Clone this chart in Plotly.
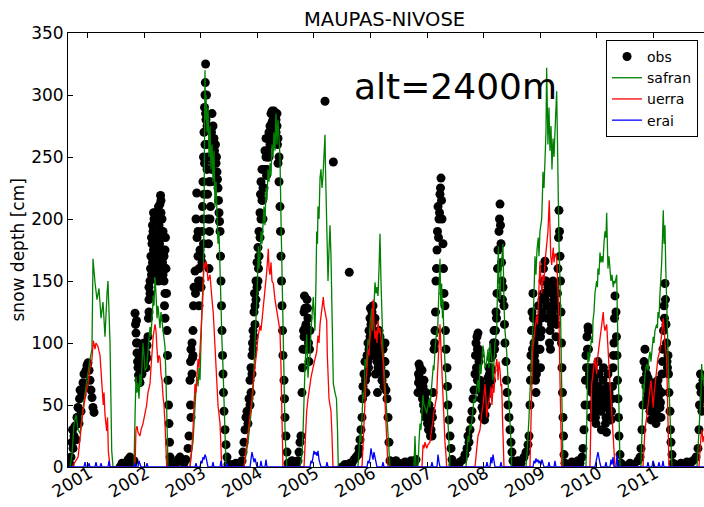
import plotly.graph_objects as go

# ---------------- data (decimal year, snow depth in cm) ----------------
OBS = [
    # winter 2000/01
    (2000.687, 2), (2000.704, 8), (2000.722, 20), (2000.731, 30), (2000.740, 15), (2000.757, 25),
    (2000.775, 33), (2000.793, 22), (2000.810, 40), (2000.828, 48), (2000.846, 35), (2000.855, 55),
    (2000.864, 62), (2000.881, 45), (2000.899, 58), (2000.917, 68), (2000.934, 75), (2000.952, 64),
    (2000.970, 78), (2000.987, 82), (2001.005, 84), (2001.023, 78), (2001.040, 70), (2001.058, 62),
    (2001.076, 56), (2001.093, 48), (2001.111, 44),
    (2001.571, 0), (2001.606, 3), (2001.642, 0), (2001.677, 2), (2001.712, 6), (2001.747, 8),
    (2001.765, 5), (2001.801, 3),
    # winter 2001/02
    (2001.818, 5), (2001.836, 124), (2001.845, 115), (2001.853, 108), (2001.862, 100), (2001.871, 92),
    (2001.880, 85), (2001.889, 80), (2001.898, 74), (2001.906, 70), (2001.924, 68), (2001.942, 80),
    (2001.959, 90), (2001.977, 95), (2001.995, 88), (2002.012, 85), (2002.030, 92), (2002.048, 98),
    (2002.065, 105), (2002.074, 120), (2002.083, 135), (2002.101, 150), (2002.110, 160), (2002.118, 170),
    (2002.136, 180), (2002.145, 165), (2002.154, 190), (2002.172, 200), (2002.180, 175), (2002.189, 160),
    (2002.207, 185), (2002.225, 200), (2002.242, 170), (2002.251, 150), (2002.260, 195), (2002.278, 212),
    (2002.287, 219), (2002.295, 205), (2002.313, 185), (2002.322, 165), (2002.331, 175), (2002.348, 150),
    (2002.357, 130), (2002.366, 120), (2002.375, 185), (2002.384, 160), (2002.393, 140), (2002.401, 110),
    (2002.410, 90), (2002.419, 70), (2002.428, 50), (2002.437, 35), (2002.446, 20), (2002.455, 8),
    (2002.472, 2),
    (2001.862, 118), (2001.880, 100), (2001.906, 90), (2001.924, 82), (2001.959, 75), (2001.995, 100),
    (2002.030, 80), (2002.048, 88), (2002.083, 125), (2002.083, 145), (2002.101, 140), (2002.127, 155),
    (2002.127, 185), (2002.145, 195), (2002.163, 175), (2002.163, 205), (2002.189, 180), (2002.189, 205),
    (2002.216, 165), (2002.216, 200), (2002.233, 185), (2002.233, 155), (2002.251, 175), (2002.251, 210),
    (2002.269, 180), (2002.269, 160), (2002.295, 190), (2002.295, 215), (2002.313, 200), (2002.313, 170),
    (2002.331, 155), (2002.331, 190), (2002.348, 170), (2002.366, 140), (2002.366, 160), (2002.366, 175),
    (2002.508, 0), (2002.561, 3), (2002.596, 6), (2002.631, 8), (2002.667, 5), (2002.702, 3), (2002.737, 6),
    # winter 2002/03
    (2002.773, 15), (2002.790, 25), (2002.808, 70), (2002.817, 85), (2002.826, 95), (2002.844, 100),
    (2002.852, 88), (2002.861, 110), (2002.870, 130), (2002.879, 145), (2002.897, 158), (2002.905, 140),
    (2002.914, 200), (2002.927, 221), (2002.932, 185), (2002.950, 170), (2002.959, 150), (2002.967, 130),
    (2002.985, 150), (2003.003, 170), (2003.020, 190), (2003.029, 210), (2003.038, 230), (2003.047, 250),
    (2003.056, 270), (2003.065, 290), (2003.073, 300), (2003.079, 310), (2003.084, 325), (2003.091, 280),
    (2003.100, 260), (2003.109, 240), (2003.118, 220), (2003.126, 200), (2003.135, 180), (2003.144, 160),
    (2003.162, 200), (2003.171, 230), (2003.179, 250), (2003.188, 270), (2003.197, 285), (2003.215, 275),
    (2003.232, 265), (2003.250, 250), (2003.259, 230), (2003.268, 245), (2003.285, 238), (2003.303, 225),
    (2003.321, 205), (2003.339, 190), (2003.347, 170), (2003.356, 150), (2003.365, 130), (2003.374, 110),
    (2003.383, 90), (2003.392, 75), (2003.400, 60), (2003.409, 45), (2003.427, 30), (2003.445, 18),
    (2003.462, 8), (2003.480, 2),
    (2002.817, 50), (2002.826, 40), (2002.844, 75), (2002.861, 90), (2002.950, 190), (2002.967, 160),
    (2002.985, 175), (2003.003, 145), (2003.020, 165), (2003.038, 200), (2003.047, 180), (2003.056, 220),
    (2003.065, 245), (2003.073, 260), (2003.084, 285), (2003.100, 300), (2003.109, 275), (2003.126, 250),
    (2003.144, 230), (2003.153, 190), (2003.171, 210), (2003.188, 240), (2003.205, 260), (2003.223, 245),
    (2003.241, 255), (2003.259, 260), (2003.276, 250), (2003.294, 232), (2003.312, 215), (2003.330, 198),
    (2003.515, 0), (2003.551, 2), (2003.586, 0), (2003.621, 3), (2003.657, 0), (2003.692, 2),
    # winter 2003/04
    (2003.728, 5), (2003.745, 12), (2003.763, 20), (2003.781, 30), (2003.798, 40), (2003.816, 45),
    (2003.833, 35), (2003.851, 55), (2003.869, 70), (2003.887, 80), (2003.904, 90), (2003.913, 100),
    (2003.922, 110), (2003.940, 125), (2003.948, 140), (2003.957, 130), (2003.975, 150), (2003.993, 165),
    (2004.010, 177), (2004.019, 160), (2004.028, 190), (2004.046, 205), (2004.055, 220), (2004.063, 230),
    (2004.081, 240), (2004.090, 215), (2004.099, 200), (2004.116, 225), (2004.134, 240), (2004.152, 250),
    (2004.161, 235), (2004.169, 255), (2004.187, 265), (2004.205, 250), (2004.223, 275), (2004.240, 285),
    (2004.258, 287), (2004.267, 270), (2004.276, 280), (2004.293, 287), (2004.311, 282), (2004.329, 270),
    (2004.346, 285), (2004.355, 260), (2004.364, 245), (2004.382, 230), (2004.399, 210), (2004.408, 190),
    (2004.417, 170), (2004.426, 150), (2004.435, 130), (2004.444, 110), (2004.452, 90), (2004.470, 70),
    (2004.479, 55), (2004.488, 40), (2004.505, 25), (2004.523, 12), (2004.541, 3),
    (2003.869, 50), (2003.887, 60), (2003.904, 75), (2003.922, 95), (2003.940, 105), (2003.957, 115),
    (2003.975, 135), (2003.993, 145), (2004.010, 150), (2004.028, 170), (2004.046, 185), (2004.063, 200),
    (2004.081, 215), (2004.099, 225), (2004.116, 240), (2004.134, 255), (2004.152, 265), (2004.169, 240),
    (2004.187, 250), (2004.205, 270), (2004.223, 260), (2004.240, 270), (2004.258, 278), (2004.276, 265),
    (2004.293, 275), (2004.311, 270), (2004.329, 280), (2004.346, 275), (2004.364, 265), (2004.382, 250),
    (2004.576, 2), (2004.611, 5), (2004.647, 3), (2004.682, 0),
    # winter 2004/05
    (2004.717, 5), (2004.735, 12), (2004.753, 20), (2004.770, 25), (2004.788, 60), (2004.797, 80),
    (2004.806, 95), (2004.815, 110), (2004.824, 125), (2004.832, 138), (2004.841, 128), (2004.859, 115),
    (2004.868, 105), (2004.877, 135), (2004.894, 120), (2004.903, 100), (2004.912, 85), (2004.930, 110),
    (2004.824, 105), (2004.841, 112), (2004.850, 95), (2004.885, 128), (2004.921, 95),
    (2005.195, 295), (2005.342, 246), (2005.624, 157),
    (2005.495, 0), (2005.548, 2), (2005.601, 0), (2005.637, 3), (2005.672, 3),
    # winter 2005/06
    (2005.708, 6), (2005.743, 8), (2005.778, 10), (2005.796, 15), (2005.814, 22), (2005.831, 30),
    (2005.849, 40), (2005.858, 55), (2005.867, 65), (2005.884, 75), (2005.902, 85), (2005.911, 70),
    (2005.920, 60), (2005.938, 90), (2005.955, 100), (2005.964, 80), (2005.973, 110), (2005.991, 120),
    (2005.999, 128), (2006.008, 100), (2006.026, 115), (2006.035, 90), (2006.044, 130), (2006.061, 118),
    (2006.079, 95), (2006.088, 75), (2006.097, 105), (2006.114, 85), (2006.123, 60), (2006.132, 100),
    (2006.150, 110), (2006.167, 90), (2006.185, 80), (2006.203, 70), (2006.220, 95), (2006.238, 85),
    (2006.256, 100), (2006.264, 75), (2006.273, 62), (2006.291, 55), (2006.309, 40), (2006.326, 20),
    (2006.344, 5),
    (2005.938, 75), (2005.955, 85), (2005.973, 95), (2005.991, 105), (2006.008, 115), (2006.026, 125),
    (2006.044, 110), (2006.061, 100), (2006.079, 120), (2006.097, 90), (2006.114, 100), (2006.132, 80),
    (2006.150, 95), (2006.167, 105), (2006.185, 100), (2006.203, 85), (2006.220, 75), (2006.238, 65),
    (2006.256, 85),
    (2006.397, 2), (2006.450, 5), (2006.503, 3), (2006.556, 0), (2006.610, 4), (2006.662, 2),
    (2006.716, 5), (2006.768, 3), (2006.804, 6),
    # winter 2006/07
    (2006.839, 60), (2006.848, 75), (2006.857, 83), (2006.875, 80), (2006.892, 70), (2006.910, 78),
    (2006.928, 65), (2006.945, 70), (2006.963, 55), (2006.981, 60), (2006.998, 45), (2007.016, 40),
    (2007.034, 50), (2007.051, 35), (2007.069, 30), (2007.078, 45), (2007.087, 25), (2007.104, 60),
    (2007.122, 95), (2007.140, 110), (2007.149, 125), (2007.157, 150), (2007.175, 175), (2007.184, 190),
    (2007.193, 210), (2007.211, 200), (2007.228, 220), (2007.246, 233), (2007.255, 215), (2007.264, 200),
    (2007.281, 180), (2007.290, 160), (2007.299, 140), (2007.316, 130), (2007.325, 110), (2007.334, 95),
    (2007.352, 80), (2007.361, 65), (2007.369, 50), (2007.387, 38), (2007.405, 25), (2007.423, 15),
    (2007.440, 6), (2007.458, 2),
    (2006.848, 68), (2006.866, 72), (2006.883, 65), (2006.901, 60), (2006.919, 55), (2006.937, 50),
    (2006.954, 45), (2006.972, 40), (2006.990, 52), (2007.007, 35), (2007.025, 30), (2007.043, 45),
    (2007.060, 25), (2007.095, 40), (2007.131, 100), (2007.166, 160), (2007.202, 185), (2007.220, 205),
    (2007.237, 225),
    (2007.493, 0), (2007.529, 2), (2007.582, 4),
    # winter 2007/08
    (2007.635, 6), (2007.670, 10), (2007.706, 15), (2007.723, 25), (2007.741, 20), (2007.759, 30),
    (2007.776, 38), (2007.794, 45), (2007.812, 55), (2007.829, 62), (2007.847, 75), (2007.856, 90),
    (2007.865, 100), (2007.882, 105), (2007.891, 95), (2007.900, 108), (2007.918, 85), (2007.935, 70),
    (2007.953, 55), (2007.971, 48), (2007.988, 60), (2008.006, 52), (2008.024, 42), (2008.041, 65),
    (2008.059, 58), (2008.077, 72), (2008.094, 80), (2008.112, 66), (2008.130, 88), (2008.147, 78),
    (2008.165, 95), (2008.183, 110), (2008.201, 100), (2008.218, 125), (2008.236, 140), (2008.245, 160),
    (2008.254, 175), (2008.271, 190), (2008.280, 200), (2008.289, 212), (2008.298, 195), (2008.307, 180),
    (2008.316, 165), (2008.324, 150), (2008.333, 135), (2008.342, 145), (2008.360, 130), (2008.368, 115),
    (2008.377, 100), (2008.395, 85), (2008.404, 70), (2008.413, 60), (2008.430, 50), (2008.448, 40),
    (2008.466, 30), (2008.483, 20), (2008.501, 12), (2008.519, 5),
    (2007.873, 80), (2007.891, 70), (2007.909, 95), (2007.926, 90), (2007.944, 65), (2007.962, 60),
    (2007.979, 40), (2007.997, 45), (2008.015, 38), (2008.032, 55), (2008.050, 50), (2008.068, 62),
    (2008.086, 68), (2008.103, 75), (2008.121, 80), (2008.139, 70), (2008.156, 90), (2008.174, 100),
    (2008.192, 95), (2008.209, 110), (2008.227, 120),
    (2008.554, 2), (2008.607, 5), (2008.660, 3), (2008.713, 8), (2008.749, 12), (2008.784, 18), (2008.802, 25),
    # winter 2008/09
    (2008.819, 50), (2008.828, 70), (2008.837, 90), (2008.846, 110), (2008.855, 125), (2008.872, 140),
    (2008.881, 120), (2008.890, 100), (2008.908, 85), (2008.917, 70), (2008.925, 60), (2008.943, 95),
    (2008.961, 115), (2008.970, 130), (2008.978, 110), (2008.996, 95), (2009.005, 80), (2009.014, 120),
    (2009.031, 135), (2009.049, 150), (2009.058, 160), (2009.067, 140), (2009.084, 166), (2009.102, 150),
    (2009.120, 130), (2009.137, 145), (2009.155, 120), (2009.173, 110), (2009.191, 125), (2009.208, 140),
    (2009.226, 150), (2009.244, 135), (2009.261, 120), (2009.279, 105), (2009.297, 130), (2009.314, 160),
    (2009.323, 185), (2009.332, 207), (2009.341, 190), (2009.350, 170), (2009.359, 150), (2009.368, 125),
    (2009.377, 100), (2009.385, 80), (2009.394, 60), (2009.403, 40), (2009.412, 25), (2009.421, 10),
    (2009.438, 3),
    (2008.846, 80), (2008.864, 95), (2008.881, 110), (2008.899, 90), (2008.917, 80), (2008.934, 75),
    (2008.952, 105), (2008.970, 95), (2008.987, 120), (2009.005, 105), (2009.023, 110), (2009.040, 125),
    (2009.058, 140), (2009.076, 150), (2009.093, 135), (2009.111, 140), (2009.129, 120), (2009.146, 130),
    (2009.164, 100), (2009.182, 95), (2009.199, 115), (2009.217, 125), (2009.235, 130), (2009.252, 145),
    (2009.270, 130), (2009.288, 115), (2009.305, 140),
    (2009.456, 0), (2009.509, 2), (2009.562, 4), (2009.615, 2), (2009.668, 5), (2009.703, 3), (2009.739, 8),
    # winter 2009/10
    (2009.756, 15), (2009.774, 30), (2009.792, 50), (2009.800, 70), (2009.809, 90), (2009.827, 105),
    (2009.845, 113), (2009.853, 95), (2009.862, 80), (2009.880, 65), (2009.889, 50), (2009.898, 40),
    (2009.915, 60), (2009.933, 80), (2009.951, 70), (2009.968, 55), (2009.977, 40), (2009.986, 35),
    (2010.004, 65), (2010.021, 85), (2010.039, 75), (2010.057, 60), (2010.074, 45), (2010.083, 30),
    (2010.092, 50), (2010.110, 70), (2010.127, 62), (2010.145, 48), (2010.163, 40), (2010.172, 28),
    (2010.180, 55), (2010.198, 75), (2010.216, 60), (2010.234, 45), (2010.251, 38), (2010.269, 55),
    (2010.287, 80), (2010.304, 100), (2010.313, 120), (2010.322, 138), (2010.340, 125), (2010.348, 105),
    (2010.357, 90), (2010.366, 70), (2010.375, 55), (2010.384, 40), (2010.393, 25), (2010.411, 10),
    (2010.428, 3),
    (2009.818, 80), (2009.836, 95), (2009.853, 110), (2009.871, 75), (2009.906, 50), (2009.924, 70),
    (2009.942, 60), (2009.959, 45), (2009.995, 50), (2010.012, 75), (2010.030, 65), (2010.048, 50),
    (2010.065, 55), (2010.101, 60), (2010.118, 80), (2010.136, 55), (2010.154, 35), (2010.189, 65),
    (2010.207, 50), (2010.225, 40), (2010.242, 55), (2010.260, 45), (2010.278, 65), (2010.295, 90),
    (2010.446, 2), (2010.516, 0), (2010.587, 3), (2010.658, 2), (2010.729, 5),
    # winter 2010/11
    (2010.764, 8), (2010.782, 15), (2010.799, 30), (2010.817, 50), (2010.826, 70), (2010.835, 85),
    (2010.852, 95), (2010.861, 80), (2010.870, 65), (2010.888, 55), (2010.905, 72), (2010.923, 60),
    (2010.941, 45), (2010.958, 38), (2010.976, 55), (2010.994, 68), (2011.012, 50), (2011.029, 40),
    (2011.047, 35), (2011.065, 58), (2011.082, 70), (2011.100, 62), (2011.118, 48), (2011.135, 40),
    (2011.153, 75), (2011.171, 95), (2011.180, 110), (2011.189, 130), (2011.206, 148), (2011.215, 135),
    (2011.224, 115), (2011.233, 100), (2011.242, 85), (2011.259, 90), (2011.268, 75), (2011.277, 60),
    (2011.295, 45), (2011.303, 30), (2011.312, 20), (2011.330, 10), (2011.348, 3),
    (2010.843, 70), (2010.879, 75), (2010.896, 60), (2010.914, 50), (2010.932, 65), (2010.950, 55),
    (2010.967, 45), (2010.985, 60), (2011.003, 55), (2011.021, 45), (2011.038, 50), (2011.056, 45),
    (2011.074, 65), (2011.091, 55), (2011.109, 60), (2011.126, 52), (2011.144, 60), (2011.162, 85),
    (2011.197, 120), (2011.250, 80),
    (2011.383, 2), (2011.436, 0), (2011.489, 3), (2011.542, 2), (2011.595, 4), (2011.648, 2),
    (2011.701, 5), (2011.754, 8),
    # winter 2011/12
    (2011.790, 15), (2011.807, 30), (2011.816, 50), (2011.825, 65), (2011.834, 75), (2011.843, 60),
    (2011.860, 45), (2011.878, 70), (2011.896, 55),
]

SAFRAN = [
    (2000.687, 0), (2000.722, 10), (2000.758, 35), (2000.793, 42), (2000.829, 30), (2000.864, 27),
    (2000.917, 48), (2000.970, 66), (2001.040, 87), (2001.075, 95), (2001.093, 168), (2001.128, 149),
    (2001.164, 135), (2001.199, 144), (2001.235, 120), (2001.270, 133), (2001.305, 105), (2001.341, 140),
    (2001.358, 150), (2001.394, 100), (2001.424, 13), (2001.447, 0),
    (2001.818, 0), (2001.836, 40), (2001.853, 73), (2001.871, 60), (2001.889, 68), (2001.906, 55),
    (2001.924, 75), (2001.942, 65), (2001.959, 85), (2001.977, 100), (2001.995, 90), (2002.012, 78),
    (2002.042, 80), (2002.065, 95), (2002.101, 113), (2002.118, 105), (2002.136, 125), (2002.159, 138),
    (2002.172, 130), (2002.189, 153), (2002.207, 140), (2002.225, 120), (2002.242, 130), (2002.278, 112),
    (2002.295, 125), (2002.313, 118), (2002.331, 107), (2002.348, 100), (2002.366, 97), (2002.384, 70),
    (2002.396, 44), (2002.410, 20), (2002.419, 0),
    (2002.808, 0), (2002.826, 10), (2002.861, 20), (2002.897, 50), (2002.927, 73), (2002.950, 65),
    (2002.967, 80), (2002.985, 70), (2003.003, 110), (2003.020, 130), (2003.043, 150), (2003.056, 200),
    (2003.073, 320), (2003.082, 280), (2003.091, 300), (2003.109, 270), (2003.126, 290), (2003.144, 250),
    (2003.162, 275), (2003.179, 240), (2003.197, 260), (2003.215, 230), (2003.232, 255), (2003.250, 210),
    (2003.268, 230), (2003.285, 200), (2003.303, 180), (2003.321, 190), (2003.339, 150), (2003.356, 130),
    (2003.374, 100), (2003.392, 80), (2003.409, 50), (2003.427, 20), (2003.445, 0),
    (2003.763, 0), (2003.798, 10), (2003.833, 20), (2003.869, 35), (2003.904, 50), (2003.922, 60),
    (2003.940, 80), (2003.957, 100), (2003.987, 120), (2004.001, 150), (2004.016, 178), (2004.028, 160),
    (2004.046, 170), (2004.063, 190), (2004.081, 180), (2004.099, 200), (2004.116, 210), (2004.134, 195),
    (2004.152, 225), (2004.169, 215), (2004.187, 240), (2004.205, 230), (2004.223, 245), (2004.240, 235),
    (2004.258, 260), (2004.276, 250), (2004.293, 270), (2004.311, 255), (2004.329, 285), (2004.346, 260),
    (2004.364, 280), (2004.382, 265), (2004.399, 250), (2004.417, 200), (2004.435, 150), (2004.452, 100),
    (2004.470, 60), (2004.488, 30), (2004.505, 10), (2004.523, 0),
    (2004.753, 0), (2004.788, 10), (2004.806, 27), (2004.824, 60), (2004.841, 80), (2004.871, 107),
    (2004.886, 90), (2004.894, 72), (2004.912, 85), (2004.930, 90), (2004.947, 110), (2004.965, 120),
    (2004.988, 137), (2005.000, 125), (2005.018, 110), (2005.036, 150), (2005.048, 190), (2005.062, 180),
    (2005.071, 210), (2005.089, 200), (2005.107, 233), (2005.124, 240), (2005.142, 225), (2005.160, 235),
    (2005.177, 250), (2005.195, 268), (2005.204, 240), (2005.213, 220), (2005.225, 193), (2005.239, 160),
    (2005.248, 150), (2005.266, 175), (2005.283, 195), (2005.301, 170), (2005.314, 137), (2005.328, 100),
    (2005.342, 67), (2005.372, 60), (2005.398, 55), (2005.416, 30), (2005.430, 0),
    (2005.778, 0), (2005.796, 10), (2005.814, 27), (2005.831, 20), (2005.849, 45), (2005.867, 60),
    (2005.884, 55), (2005.902, 87), (2005.920, 80), (2005.938, 95), (2005.955, 103), (2005.973, 98),
    (2005.991, 115), (2006.021, 128), (2006.035, 110), (2006.044, 120), (2006.061, 130), (2006.079, 149),
    (2006.097, 140), (2006.114, 145), (2006.132, 138), (2006.150, 160), (2006.167, 188), (2006.185, 150),
    (2006.197, 121), (2006.211, 110), (2006.220, 95), (2006.238, 80), (2006.256, 65), (2006.286, 45),
    (2006.309, 25), (2006.326, 10), (2006.344, 0),
    (2006.768, 0), (2006.786, 25), (2006.804, 0),
    (2006.839, 0), (2006.857, 20), (2006.875, 35), (2006.892, 30), (2006.910, 45), (2006.928, 58),
    (2006.945, 50), (2006.963, 48), (2006.993, 43), (2007.016, 50), (2007.034, 55), (2007.051, 48),
    (2007.069, 60), (2007.087, 70), (2007.110, 82), (2007.122, 78), (2007.140, 95), (2007.170, 110),
    (2007.184, 105), (2007.193, 120), (2007.211, 140), (2007.228, 168), (2007.242, 130), (2007.258, 148),
    (2007.272, 120), (2007.281, 135), (2007.299, 100), (2007.316, 80), (2007.346, 57), (2007.361, 45),
    (2007.375, 30), (2007.387, 15), (2007.405, 0),
    (2007.688, 0), (2007.706, 15), (2007.724, 25), (2007.741, 20), (2007.759, 35), (2007.776, 30),
    (2007.794, 40), (2007.812, 48), (2007.829, 55), (2007.847, 52), (2007.877, 63), (2007.900, 70),
    (2007.918, 60), (2007.935, 83), (2007.953, 75), (2007.971, 90), (2007.988, 98), (2008.006, 92),
    (2008.024, 80), (2008.054, 85), (2008.077, 95), (2008.094, 80), (2008.112, 100), (2008.130, 92),
    (2008.147, 85), (2008.165, 70), (2008.183, 90), (2008.201, 100), (2008.231, 110), (2008.245, 140),
    (2008.259, 178), (2008.271, 150), (2008.289, 135), (2008.307, 160), (2008.324, 170), (2008.342, 180),
    (2008.360, 130), (2008.377, 110), (2008.407, 93), (2008.430, 70), (2008.448, 55), (2008.466, 45),
    (2008.483, 20), (2008.496, 0),
    (2008.749, 0), (2008.766, 10), (2008.784, 22), (2008.802, 40), (2008.819, 60), (2008.837, 75),
    (2008.849, 87), (2008.864, 100), (2008.872, 115), (2008.890, 140), (2008.908, 170), (2008.925, 155),
    (2008.943, 175), (2008.966, 185), (2008.978, 170), (2008.996, 190), (2009.026, 200), (2009.040, 220),
    (2009.049, 238), (2009.067, 225), (2009.084, 250), (2009.102, 270), (2009.114, 322), (2009.129, 280),
    (2009.137, 260), (2009.155, 290), (2009.173, 255), (2009.191, 275), (2009.208, 240), (2009.226, 265),
    (2009.244, 250), (2009.261, 270), (2009.279, 285), (2009.291, 303), (2009.306, 260), (2009.314, 230),
    (2009.332, 180), (2009.350, 150), (2009.368, 100), (2009.385, 40), (2009.403, 0),
    (2009.809, 0), (2009.827, 40), (2009.845, 93), (2009.862, 85), (2009.880, 95), (2009.910, 105),
    (2009.924, 100), (2009.933, 118), (2009.951, 125), (2009.968, 140), (2009.998, 150), (2010.012, 145),
    (2010.021, 160), (2010.039, 155), (2010.057, 173), (2010.074, 165), (2010.092, 170), (2010.110, 165),
    (2010.127, 180), (2010.145, 190), (2010.163, 185), (2010.175, 205), (2010.190, 175), (2010.198, 160),
    (2010.216, 170), (2010.234, 160), (2010.251, 150), (2010.269, 155), (2010.292, 145), (2010.304, 150),
    (2010.322, 148), (2010.352, 155), (2010.366, 120), (2010.380, 70), (2010.393, 30), (2010.411, 0),
    (2010.782, 0), (2010.799, 30), (2010.822, 67), (2010.835, 60), (2010.852, 75), (2010.882, 83),
    (2010.905, 78), (2010.923, 88), (2010.941, 93), (2010.958, 85), (2010.976, 95), (2010.999, 105),
    (2011.012, 100), (2011.029, 110), (2011.059, 115), (2011.073, 112), (2011.082, 125), (2011.100, 120),
    (2011.118, 140), (2011.135, 150), (2011.148, 165), (2011.162, 185), (2011.176, 207), (2011.189, 180),
    (2011.206, 195), (2011.220, 160), (2011.236, 140), (2011.250, 110), (2011.265, 80), (2011.277, 60),
    (2011.295, 40), (2011.312, 20), (2011.330, 0),
    (2011.772, 0), (2011.790, 15), (2011.807, 30), (2011.825, 45), (2011.843, 60), (2011.855, 83),
    (2011.869, 70), (2011.878, 75), (2011.896, 65),
]

UERRA = [
    (2000.722, 0), (2000.793, 5), (2000.829, 8), (2000.864, 23), (2000.917, 45), (2000.970, 60),
    (2001.005, 67), (2001.040, 80), (2001.075, 87), (2001.099, 102), (2001.128, 95), (2001.146, 100),
    (2001.182, 97), (2001.217, 90), (2001.247, 70), (2001.275, 50), (2001.288, 60), (2001.305, 42),
    (2001.335, 29), (2001.350, 40), (2001.364, 13), (2001.394, 0),
    (2001.836, 0), (2001.853, 30), (2001.871, 33), (2001.889, 28), (2001.924, 25), (2001.942, 30),
    (2001.977, 35), (2002.012, 42), (2002.042, 50), (2002.065, 60), (2002.101, 67), (2002.118, 80),
    (2002.136, 95), (2002.159, 106), (2002.189, 115), (2002.207, 110), (2002.225, 95), (2002.242, 84),
    (2002.260, 90), (2002.278, 88), (2002.295, 75), (2002.313, 70), (2002.331, 57), (2002.348, 50),
    (2002.366, 35), (2002.384, 15), (2002.396, 0),
    (2002.808, 0), (2002.838, 13), (2002.861, 30), (2002.897, 67), (2002.914, 60), (2002.932, 75),
    (2002.950, 87), (2002.967, 80), (2002.985, 100), (2003.015, 120), (2003.038, 140), (2003.056, 165),
    (2003.073, 160), (2003.091, 166), (2003.109, 162), (2003.126, 150), (2003.162, 155), (2003.179, 140),
    (2003.197, 135), (2003.220, 124), (2003.250, 100), (2003.280, 67), (2003.303, 50), (2003.339, 35),
    (2003.356, 15), (2003.369, 0),
    (2003.763, 0), (2003.811, 18), (2003.833, 30), (2003.869, 40), (2003.904, 55), (2003.922, 67),
    (2003.957, 80), (2003.987, 93), (2004.010, 105), (2004.046, 114), (2004.063, 110), (2004.099, 125),
    (2004.134, 140), (2004.164, 157), (2004.193, 176), (2004.205, 160), (2004.223, 155), (2004.240, 165),
    (2004.258, 150), (2004.281, 148), (2004.311, 135), (2004.341, 125), (2004.364, 120), (2004.382, 112),
    (2004.399, 110), (2004.417, 80), (2004.435, 45), (2004.452, 0),
    (2004.824, 0), (2004.841, 20), (2004.871, 45), (2004.894, 55), (2004.930, 67), (2004.947, 72),
    (2004.983, 80), (2005.018, 88), (2005.048, 93), (2005.071, 106), (2005.089, 100), (2005.107, 115),
    (2005.137, 125), (2005.151, 130), (2005.165, 137), (2005.177, 130), (2005.195, 125), (2005.225, 118),
    (2005.236, 90), (2005.248, 67), (2005.266, 55), (2005.283, 50), (2005.301, 45), (2005.319, 25),
    (2005.336, 0),
    (2005.849, 0), (2005.867, 20), (2005.884, 40), (2005.902, 58), (2005.920, 70), (2005.938, 80),
    (2005.961, 95), (2005.973, 90), (2005.991, 105), (2006.021, 115), (2006.035, 125), (2006.049, 135),
    (2006.061, 115), (2006.079, 103), (2006.097, 110), (2006.114, 100), (2006.132, 118), (2006.150, 108),
    (2006.167, 112), (2006.185, 100), (2006.203, 95), (2006.226, 82), (2006.238, 70), (2006.256, 50),
    (2006.273, 35), (2006.291, 20), (2006.309, 0),
    (2006.910, 0), (2006.928, 18), (2006.945, 15), (2006.963, 20), (2006.993, 15), (2007.016, 18),
    (2007.051, 20), (2007.069, 25), (2007.087, 30), (2007.110, 40), (2007.122, 45), (2007.140, 50),
    (2007.170, 57), (2007.184, 75), (2007.198, 93), (2007.211, 100), (2007.228, 115), (2007.246, 95),
    (2007.258, 80), (2007.272, 65), (2007.287, 50), (2007.299, 35), (2007.316, 20), (2007.334, 10),
    (2007.346, 0),
    (2007.847, 0), (2007.877, 18), (2007.900, 25), (2007.935, 30), (2007.953, 40), (2007.971, 45),
    (2007.994, 52), (2008.024, 67), (2008.041, 55), (2008.054, 40), (2008.077, 50), (2008.112, 57),
    (2008.130, 65), (2008.147, 50), (2008.170, 67), (2008.183, 60), (2008.201, 75), (2008.231, 87),
    (2008.245, 80), (2008.254, 70), (2008.271, 85), (2008.289, 78), (2008.307, 65), (2008.319, 67),
    (2008.333, 40), (2008.342, 22), (2008.360, 0),
    (2008.819, 0), (2008.837, 40), (2008.849, 81), (2008.864, 90), (2008.872, 96), (2008.890, 105),
    (2008.908, 112), (2008.938, 122), (2008.952, 115), (2008.966, 130), (2008.978, 145), (2008.996, 166),
    (2009.014, 150), (2009.031, 140), (2009.049, 155), (2009.067, 150), (2009.084, 165), (2009.114, 177),
    (2009.137, 190), (2009.160, 215), (2009.173, 190), (2009.187, 170), (2009.203, 163), (2009.217, 170),
    (2009.231, 177), (2009.244, 165), (2009.261, 172), (2009.291, 170), (2009.306, 150), (2009.314, 140),
    (2009.332, 120), (2009.350, 70), (2009.368, 30), (2009.380, 0),
    (2009.880, 0), (2009.898, 30), (2009.910, 67), (2009.933, 75), (2009.968, 88), (2009.986, 80),
    (2009.998, 75), (2010.021, 90), (2010.057, 103), (2010.074, 110), (2010.092, 118), (2010.115, 125),
    (2010.127, 115), (2010.145, 110), (2010.175, 115), (2010.190, 105), (2010.204, 95), (2010.216, 80),
    (2010.234, 67), (2010.251, 55), (2010.269, 40), (2010.287, 30), (2010.304, 15), (2010.322, 0),
    (2010.817, 0), (2010.835, 20), (2010.852, 30), (2010.882, 40), (2010.905, 50), (2010.941, 63),
    (2010.958, 70), (2010.976, 60), (2010.999, 48), (2011.012, 58), (2011.029, 65), (2011.059, 82),
    (2011.082, 88), (2011.118, 94), (2011.135, 100), (2011.153, 110), (2011.176, 120), (2011.189, 110),
    (2011.206, 100), (2011.236, 87), (2011.250, 60), (2011.259, 30), (2011.277, 0),
    (2011.807, 0), (2011.825, 15), (2011.843, 25), (2011.860, 30), (2011.878, 20), (2011.896, 25),
]

ERAI = [
    (2000.651, 0),
    (2000.934, 0), (2000.952, 4), (2000.970, 0), (2001.005, 0), (2001.023, 3), (2001.040, 0),
    (2001.128, 0), (2001.146, 4), (2001.164, 0), (2001.217, 0), (2001.235, 3), (2001.252, 0),
    (2001.358, 0), (2001.376, 5), (2001.394, 0),
    (2001.818, 0), (2001.836, 3), (2001.853, 0), (2001.889, 0), (2001.906, 5), (2001.924, 2),
    (2001.942, 0), (2002.030, 0), (2002.048, 3), (2002.065, 0),
    (2002.897, 0), (2002.914, 3), (2002.932, 0), (2002.985, 0), (2003.003, 5), (2003.020, 3),
    (2003.038, 8), (2003.056, 6), (2003.073, 10), (2003.091, 8), (2003.109, 5), (2003.126, 0),
    (2003.197, 0), (2003.215, 4), (2003.232, 0), (2003.339, 0), (2003.356, 5), (2003.374, 0),
    (2003.445, 0), (2003.462, 3), (2003.480, 0),
    (2003.869, 0), (2003.886, 6), (2003.904, 12), (2003.922, 8), (2003.940, 4), (2003.957, 7),
    (2003.975, 3), (2003.993, 0), (2004.046, 0), (2004.063, 5), (2004.081, 0), (2004.134, 0),
    (2004.152, 6), (2004.169, 0),
    (2004.930, 0), (2004.947, 5), (2004.965, 3), (2004.983, 8), (2005.000, 13), (2005.018, 10),
    (2005.036, 12), (2005.054, 9), (2005.071, 13), (2005.089, 6), (2005.107, 3), (2005.124, 0),
    (2005.213, 0), (2005.230, 4), (2005.248, 0),
    (2005.938, 0), (2005.955, 5), (2005.973, 3), (2005.991, 8), (2006.008, 15), (2006.026, 10),
    (2006.044, 6), (2006.061, 12), (2006.079, 8), (2006.097, 3), (2006.114, 0), (2006.203, 0),
    (2006.220, 4), (2006.238, 0),
    (2007.069, 0), (2007.087, 4), (2007.104, 0), (2007.175, 0), (2007.193, 10), (2007.211, 4),
    (2007.228, 0),
    (2008.041, 0), (2008.059, 4), (2008.077, 0), (2008.112, 0), (2008.130, 8), (2008.147, 3),
    (2008.165, 10), (2008.183, 5), (2008.201, 0), (2008.289, 0), (2008.307, 4), (2008.324, 0),
    (2008.872, 0), (2008.890, 5), (2008.908, 3), (2008.925, 7), (2008.943, 4), (2008.961, 6),
    (2008.978, 3), (2008.996, 5), (2009.014, 2), (2009.031, 6), (2009.049, 3), (2009.067, 0),
    (2009.137, 0), (2009.155, 4), (2009.173, 0), (2009.244, 0), (2009.261, 5), (2009.279, 0),
    (2009.968, 0), (2009.986, 6), (2010.004, 8), (2010.021, 12), (2010.039, 5), (2010.057, 3),
    (2010.074, 0), (2010.145, 0), (2010.163, 4), (2010.180, 0), (2010.234, 0), (2010.251, 6),
    (2010.269, 2), (2010.287, 8), (2010.304, 0), (2010.340, 0), (2010.357, 10), (2010.375, 0),
    (2010.888, 0), (2010.905, 4), (2010.923, 0), (2010.976, 0), (2010.994, 5), (2011.012, 2),
    (2011.029, 0), (2011.082, 0), (2011.100, 4), (2011.118, 0), (2011.153, 0), (2011.171, 5),
    (2011.189, 0),
    (2011.896, 0),
]

TICK_YEARS = [2001, 2002, 2003, 2004, 2005, 2006, 2007, 2008, 2009, 2010, 2011]
Y_TICKS = [0, 50, 100, 150, 200, 250, 300, 350]
X_RANGE = [2000.651, 2011.896]
Y_RANGE = [0, 350]
TITLE = "MAUPAS-NIVOSE"
ALT_LABEL = "alt=2400m"


def split(pairs):
    return [p[0] for p in pairs], [p[1] for p in pairs]


FONT = "DejaVu Sans"
fig = go.Figure()

ox, oy = split(OBS)
fig.add_trace(go.Scatter(x=ox, y=oy, mode="markers", name="obs",
                         marker=dict(color="black", size=9, line=dict(width=0)),
                         cliponaxis=True))
for name, data, color in [("safran", SAFRAN, "#008000"),
                          ("uerra", UERRA, "#ff0000"),
                          ("erai", ERAI, "#0000ff")]:
    xs, ys = split(data)
    fig.add_trace(go.Scatter(x=xs, y=ys, mode="lines", name=name,
                             line=dict(color=color, width=1.3)))

fig.update_layout(
    width=704, height=507,
    margin=dict(l=68, r=0, t=33, b=40, pad=0, autoexpand=False),
    paper_bgcolor="white", plot_bgcolor="white",
    font=dict(family=FONT, size=17, color="black"),
    showlegend=True,
    legend=dict(x=0.9906, xanchor="right", y=0.984, yanchor="top",
                bgcolor="white", bordercolor="black", borderwidth=1,
                font=dict(family=FONT, size=14, color="black"),
                itemwidth=30, tracegroupgap=0),
    xaxis=dict(range=X_RANGE, tickmode="array", tickvals=TICK_YEARS,
               ticktext=[str(y) for y in TICK_YEARS], tickangle=-30,
               ticks="inside", ticklen=5, tickcolor="black", tickwidth=1,
               ticklabelstandoff=-11, ticklabelshift=2,
               showline=True, linecolor="black", linewidth=1, mirror="ticks",
               showgrid=False, zeroline=False, automargin=False,
               tickfont=dict(family=FONT, size=17, color="black")),
    yaxis=dict(range=Y_RANGE, tickmode="array", tickvals=Y_TICKS,
               ticks="inside", ticklen=5, tickcolor="black", tickwidth=1,
               showline=True, linecolor="black", linewidth=1, mirror=False,
               showgrid=False, zeroline=False, automargin=False,
               tickfont=dict(family=FONT, size=17, color="black")),
    annotations=[
        dict(text=TITLE, xref="paper", yref="paper", x=0.4984, y=1.032,
             xanchor="center", yanchor="middle", showarrow=False,
             font=dict(family=FONT, size=19.5, color="black")),
        dict(text=ALT_LABEL, xref="paper", yref="paper", x=0.6093, y=0.8756,
             xanchor="center", yanchor="middle", showarrow=False,
             font=dict(family=FONT, size=36, color="black")),
        dict(text="snow depth [cm]", xref="paper", yref="paper", x=-0.0794, y=0.5,
             xanchor="center", yanchor="middle", textangle=-90, showarrow=False,
             font=dict(family=FONT, size=17, color="black")),
    ],
)

fig.write_html("out.html")
